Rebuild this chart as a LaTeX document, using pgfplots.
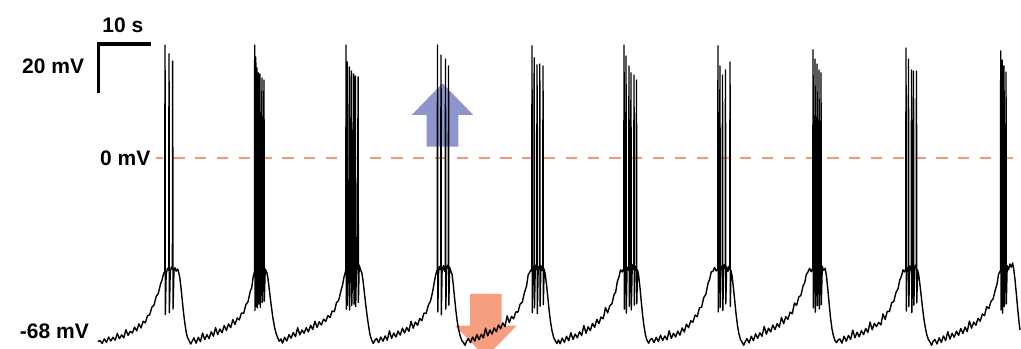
\documentclass[border=0pt]{standalone}
\usepackage{pgfplots}
\pgfplotsset{compat=1.18}
\usepackage{fontspec}
\setmainfont{Liberation Sans}
\definecolor{dashc}{RGB}{240,152,122}
\definecolor{downc}{RGB}{245,158,128}
\definecolor{upc}{RGB}{142,149,204}
\begin{document}
\begin{tikzpicture}
\begin{axis}[scale only axis, width=1021pt, height=349pt,
  xmin=-18.519, xmax=170.556, ymin=-71.375, ymax=59.043,
  hide axis, clip=true]
\path (rel axis cs:0,0) rectangle (rel axis cs:1,1);
% up arrow (blue)
\addplot[fill=upc, draw=none] coordinates {(60.50,4.22) (60.50,16.07) (57.72,16.07) (63.43,27.91) (69.13,16.07) (66.35,16.07) (66.35,4.22)} --cycle;
% down arrow (orange)
\addplot[fill=downc, draw=none] coordinates {(68.52,-50.82) (68.52,-62.67) (65.74,-62.67) (71.44,-74.51) (77.17,-62.67) (74.39,-62.67) (74.39,-50.82)} --cycle;
% 0 mV dashed line
\addplot[dashc, line width=1.3pt, dash pattern=on 11.3pt off 10.5pt, dash phase=4.5pt] coordinates {(10.37,0) (170.0,0)};
% scale bar
\addplot[black, line width=3.2pt, line join=miter] coordinates {(9.44,42.6) (-0.31,42.6) (-0.31,24.2)};
% membrane potential trace
\addplot[black, line width=1.4pt, line join=round] coordinates {
(-0.4,-68.6)(0,-68.2)(0.4,-69.3)(0.8,-67.6)(1.2,-68.9)(1.6,-66.9)(2.0,-68.4)(2.4,-67.0)(2.8,-68.1)(3.2,-65.6)(3.6,-67.5)(4.0,-66.1)(4.4,-67.2)(4.8,-64.2)(5.2,-66.3)(5.6,-64.8)(6.0,-65.4)(6.4,-63.2)(6.8,-64.6)(7.2,-62.0)(7.6,-63.5)(8.0,-61.0)(8.4,-61.6)(8.8,-58.9)(9.2,-58.6)(9.6,-55.8)(10.0,-55.0)(10.4,-51.8)(10.8,-50.6)(11.2,-47.2)(11.5,-45.5)(11.8,-43.0)
(11.99,-42.5)(12.04,42.2)(12.10,-58.5)(12.25,-43.5)(12.5,-41.2)(12.73,-42.0)(12.78,38.9)(12.84,-57.8)(13.0,-42.8)(13.2,-40.8)(13.41,-41.5)(13.46,36.2)(13.52,-56.5)(13.7,-42.0)(13.9,-41.0)(14.1,-42.3)(14.4,-41.5)(14.6,-43.0)(14.8,-45.0)(15.0,-48.5)(15.2,-52.5)(15.4,-56.5)(15.6,-60.0)(15.8,-63.0)(16.0,-65.5)(16.2,-67.0)(16.5,-68.3)(16.8,-69.5)(17.1,-68.4)
(17.4,-67.2)(17.8,-69.2)(18.2,-67.0)(18.6,-68.6)(19.0,-65.4)(19.4,-67.9)(19.8,-66.0)(20.2,-67.5)(20.6,-64.9)(21.0,-66.6)(21.4,-63.4)(21.8,-66.0)(22.2,-63.9)(22.6,-65.3)(23.0,-62.6)(23.4,-64.4)(23.8,-62.0)(24.2,-63.4)(24.6,-60.4)(25.0,-62.2)(25.4,-59.8)(25.8,-60.5)(26.2,-57.9)(26.6,-58.1)(27.0,-54.8)(27.4,-53.8)(27.8,-50.0)(28.1,-48.4)(28.4,-44.0)
(28.61,-42.5)(28.65,42.2)(28.70,-57.0)(28.78,-43.5)(28.85,37.7)(28.90,-55.5)(28.99,-42.0)(29.07,33.6)(29.12,-56.0)(29.24,-41.5)(29.35,31.8)(29.40,-54.5)(29.52,-42.8)(29.63,31.4)(29.68,-55.8)(29.85,-41.0)(30.0,29.9)(30.05,-54.0)(30.2,-42.2)(30.37,29.1)(30.42,-53.5)(30.6,-41.5)(30.9,-42.8)(31.1,-45.0)(31.4,-50.0)(31.7,-55.0)(32.0,-59.5)(32.3,-63.0)(32.6,-65.5)(32.9,-67.2)(33.2,-68.5)(33.5,-67.6)(33.8,-69.2)
(34.2,-67.0)(34.6,-68.4)(35.0,-66.0)(35.4,-67.3)(35.8,-65.2)(36.2,-66.8)(36.6,-63.4)(37.0,-66.1)(37.4,-64.3)(37.8,-65.5)(38.2,-63.4)(38.6,-65.0)(39.0,-62.5)(39.4,-64.1)(39.8,-61.0)(40.2,-63.3)(40.6,-61.2)(41.0,-62.4)(41.4,-60.2)(41.8,-61.1)(42.2,-58.9)(42.6,-59.6)(43.0,-57.2)(43.4,-57.4)(43.8,-54.0)(44.2,-53.2)(44.6,-49.8)(44.9,-47.6)(45.2,-44.4)(45.45,-42.5)
(45.52,-41.8)(45.56,42.2)(45.61,-56.5)(45.68,-42.0)(45.76,35.9)(45.81,-55.0)(45.95,-40.5)(46.05,-39.0)(46.17,34.0)(46.22,-56.8)(46.35,-41.2)(46.57,32.5)(46.62,-55.2)(46.8,-39.5)(46.98,31.4)(47.03,-54.6)(47.15,-40.8)(47.30,30.6)(47.35,-55.5)(47.5,-39.2)(47.65,-41.5)(47.80,30.3)(47.85,-54.0)(48.0,-40.0)(48.25,-41.8)(48.5,-43.0)(48.75,-46.5)(49.0,-51.0)(49.25,-55.5)(49.5,-59.5)(49.75,-63.0)(50.0,-66.0)(50.3,-68.0)(50.6,-69.3)(50.9,-68.2)
(51.2,-67.4)(51.6,-69.0)(52.0,-66.9)(52.4,-68.5)(52.8,-66.5)(53.2,-68.1)(53.6,-64.6)(54.0,-67.4)(54.4,-65.4)(54.8,-66.9)(55.2,-64.7)(55.6,-66.2)(56.0,-63.6)(56.4,-65.4)(56.8,-63.3)(57.2,-64.8)(57.6,-61.0)(58.0,-63.6)(58.4,-61.3)(58.8,-62.5)(59.2,-60.0)(59.6,-60.8)(60.0,-57.9)(60.4,-58.1)(60.8,-55.0)(61.2,-53.5)(61.6,-50.0)(61.9,-46.5)(62.15,-43.8)(62.4,-42.0)
(62.46,-42.2)(62.5,42.2)(62.55,-57.5)(62.7,-42.5)(62.9,-40.5)(63.1,-41.8)(63.15,38.5)(63.2,-58.6)(63.35,-42.0)(63.6,-40.2)(63.8,-42.4)(63.94,-41.0)(63.98,37.0)(64.03,-56.5)(64.2,-41.5)(64.4,-40.0)(64.5,-41.2)(64.54,34.4)(64.59,-55.0)(64.75,-40.8)(65.0,-42.5)(65.2,-43.5)(65.4,-47.0)(65.65,-52.0)(65.9,-57.0)(66.15,-61.0)(66.4,-64.0)(66.7,-66.5)(67.0,-68.2)(67.3,-69.0)(67.6,-70.0)(67.9,-68.4)
(68.2,-67.5)(68.6,-69.0)(69.0,-66.9)(69.4,-68.4)(69.8,-66.0)(70.2,-67.9)(70.6,-65.9)(71.0,-67.2)(71.4,-63.6)(71.8,-66.5)(72.2,-64.3)(72.6,-65.8)(73.0,-63.5)(73.4,-64.9)(73.8,-62.4)(74.2,-63.8)(74.6,-61.6)(75.0,-63.0)(75.4,-59.0)(75.8,-61.5)(76.2,-59.2)(76.6,-60.1)(77.0,-57.5)(77.4,-57.6)(77.8,-54.6)(78.2,-53.9)(78.6,-50.3)(79.0,-47.8)(79.3,-43.6)(79.6,-42.6)(79.9,-41.6)
(79.96,-42.3)(80.0,41.9)(80.05,-57.8)(80.2,-42.0)(80.36,-40.6)(80.41,37.4)(80.46,-56.0)(80.6,-41.5)(80.75,-40.0)(80.88,-41.8)(80.93,34.8)(80.98,-58.2)(81.15,-40.6)(81.39,-41.4)(81.44,35.1)(81.49,-55.4)(81.65,-40.2)(81.85,-42.0)(81.99,-40.8)(82.04,34.4)(82.09,-54.8)(82.25,-41.5)(82.45,-43.5)(82.7,-47.5)(82.95,-52.5)(83.2,-57.5)(83.45,-61.5)(83.7,-64.5)(84.0,-67.0)(84.3,-68.3)(84.6,-69.3)(84.9,-68.0)(85.2,-69.4)
(85.6,-67.3)(86.0,-68.9)(86.4,-66.6)(86.8,-68.3)(87.2,-65.3)(87.6,-67.8)(88.0,-65.8)(88.4,-67.2)(88.8,-64.9)(89.2,-66.4)(89.6,-62.6)(90.0,-65.5)(90.4,-63.1)(90.8,-64.5)(91.2,-61.8)(91.6,-63.3)(92.0,-60.3)(92.4,-61.9)(92.8,-59.4)(93.2,-60.1)(93.6,-55.9)(94.0,-57.9)(94.4,-55.2)(94.8,-54.5)(95.2,-51.0)(95.5,-50.1)(95.8,-46.2)(96.1,-44.5)(96.4,-41.8)(96.7,-42.6)(96.95,-41.5)
(97.0,-42.0)(97.04,42.2)(97.09,-56.5)(97.22,-41.5)(97.36,-42.4)(97.41,38.1)(97.46,-58.0)(97.6,-40.8)(97.8,-41.9)(97.91,-40.5)(97.96,34.4)(98.01,-55.5)(98.15,-42.0)(98.28,-40.4)(98.33,31.8)(98.38,-56.8)(98.55,-41.2)(98.7,-39.8)(98.84,-41.6)(98.89,31.0)(98.94,-55.0)(99.1,-40.6)(99.3,-42.0)(99.35,29.1)(99.4,-54.5)(99.55,-41.8)(99.75,-44.0)(100.0,-48.5)(100.25,-54.0)(100.5,-59.0)(100.75,-63.0)(101.0,-66.0)(101.3,-68.2)(101.6,-69.2)(101.9,-67.9)
(102.2,-67.4)(102.6,-69.0)(103.0,-67.0)(103.4,-68.6)(103.8,-66.2)(104.2,-68.2)(104.6,-66.5)(105.0,-67.9)(105.4,-64.6)(105.8,-67.4)(106.2,-65.5)(106.6,-66.9)(107.0,-64.7)(107.4,-66.2)(107.8,-63.5)(108.2,-65.0)(108.6,-62.1)(109.0,-63.4)(109.4,-60.8)(109.8,-61.4)(110.2,-58.7)(110.6,-59.3)(111.0,-56.0)(111.4,-55.8)(111.8,-52.2)(112.2,-50.9)(112.6,-46.8)(112.9,-45.3)(113.2,-42.5)(113.5,-42.4)(113.8,-40.9)(114.1,-42.2)
(114.4,-41.5)(114.44,41.9)(114.49,-57.5)(114.62,-41.0)(114.76,-42.5)(114.81,34.4)(114.86,-55.8)(115.0,-40.5)(115.15,-41.8)(115.23,-40.2)(115.28,31.0)(115.33,-57.0)(115.5,-41.6)(115.65,-39.8)(115.78,-41.4)(115.83,32.9)(115.88,-54.5)(116.05,-40.6)(116.3,-42.3)(116.5,-40.4)(116.62,-41.5)(116.67,35.9)(116.72,-55.5)(116.85,-42.0)(117.05,-44.0)(117.3,-48.5)(117.55,-53.5)(117.8,-58.5)(118.05,-62.5)(118.3,-65.5)(118.6,-67.8)(118.9,-68.8)(119.2,-70.0)(119.5,-68.6)
(119.8,-67.5)(120.2,-69.1)(120.6,-66.6)(121.0,-68.3)(121.4,-65.7)(121.8,-67.4)(122.2,-65.3)(122.6,-66.6)(123.0,-62.9)(123.4,-65.8)(123.8,-63.6)(124.2,-65.0)(124.6,-62.4)(125.0,-64.1)(125.4,-61.9)(125.8,-63.2)(126.2,-59.6)(126.6,-61.9)(127.0,-59.3)(127.4,-60.3)(127.8,-57.6)(128.2,-58.2)(128.6,-54.2)(129.0,-55.1)(129.4,-52.0)(129.8,-51.3)(130.2,-47.8)(130.5,-46.6)(130.8,-43.5)(131.1,-42.6)(131.4,-41.2)(131.7,-42.5)(131.95,-41.3)
(132.0,-42.0)(132.04,40.4)(132.09,-56.0)(132.22,-41.2)(132.36,-42.5)(132.41,37.0)(132.46,-57.6)(132.6,-40.6)(132.73,-41.8)(132.78,35.1)(132.83,-55.2)(133.0,-40.2)(133.1,-41.6)(133.15,32.9)(133.2,-56.4)(133.35,-41.0)(133.47,-42.0)(133.52,31.8)(133.57,-54.8)(133.75,-40.5)(134.0,-42.0)(134.3,-41.2)(134.55,-44.5)(134.8,-49.5)(135.05,-55.0)(135.3,-60.0)(135.55,-63.8)(135.8,-66.3)(136.1,-68.2)(136.4,-69.0)(136.7,-68.0)
(137.0,-67.6)(137.4,-69.2)(137.8,-66.6)(138.2,-68.5)(138.6,-66.3)(139.0,-67.8)(139.4,-64.3)(139.8,-67.2)(140.2,-65.1)(140.6,-66.8)(141.0,-64.5)(141.4,-66.0)(141.8,-63.7)(142.2,-65.2)(142.6,-61.3)(143.0,-64.2)(143.4,-61.8)(143.8,-63.0)(144.2,-61.4)(144.6,-62.4)(145.0,-58.3)(145.4,-60.3)(145.8,-57.3)(146.2,-57.4)(146.6,-54.1)(147.0,-53.6)(147.4,-50.3)(147.8,-48.8)(148.1,-45.6)(148.4,-44.3)(148.7,-41.8)(148.95,-42.6)
(149.22,-41.4)(149.26,41.1)(149.31,-57.2)(149.45,-41.0)(149.6,-42.4)(149.67,-41.2)(149.72,37.0)(149.77,-55.6)(149.95,-40.4)(150.1,-42.0)(150.23,-40.6)(150.28,32.9)(150.33,-57.8)(150.48,-41.4)(150.6,-39.8)(150.65,32.5)(150.7,-55.0)(150.9,-41.2)(151.05,-40.0)(151.15,-41.0)(151.2,32.5)(151.25,-54.2)(151.4,-41.8)(151.6,-43.5)(151.85,-47.5)(152.1,-52.0)(152.35,-56.5)(152.6,-60.5)(152.85,-63.5)(153.1,-66.0)(153.4,-67.8)(153.7,-68.8)(154.0,-70.0)(154.3,-68.5)
(154.6,-67.8)(155.0,-69.5)(155.4,-67.2)(155.8,-68.9)(156.2,-66.5)(156.6,-68.3)(157.0,-64.9)(157.4,-67.7)(157.8,-65.5)(158.2,-67.0)(158.6,-64.7)(159.0,-66.3)(159.4,-63.7)(159.8,-65.6)(160.2,-63.2)(160.6,-64.9)(161.0,-60.9)(161.4,-63.6)(161.8,-61.3)(162.2,-62.5)(162.6,-59.9)(163.0,-61.0)(163.4,-58.3)(163.8,-58.9)(164.2,-55.5)(164.6,-56.3)(165.0,-53.6)(165.4,-52.6)(165.8,-49.2)(166.1,-47.3)(166.4,-43.4)(166.65,-42.5)
(166.76,-42.0)(166.8,40.0)(166.85,-56.8)(166.97,-41.5)(167.04,-40.8)(167.09,36.6)(167.14,-58.0)(167.28,-41.0)(167.36,-40.0)(167.41,34.4)(167.46,-55.5)(167.6,-40.5)(167.73,-41.6)(167.78,32.1)(167.83,-54.5)(168.0,-40.2)(168.25,-41.8)(168.5,-39.6)(168.75,-40.8)(169.0,-39.2)(169.2,-41.5)(169.45,-45.5)(169.7,-51.0)(169.95,-56.5)(170.2,-61.5)(170.37,-64.3)
};
% labels
\node[font=\bfseries\fontsize{21}{25}\selectfont, inner sep=0pt, anchor=center] at (rel axis cs:0.1203,0.9275) {10 s};
\node[font=\bfseries\fontsize{21}{25}\selectfont, inner sep=0pt, anchor=east] at (rel axis cs:0.08257,0.8089) {20 mV};
\node[font=\bfseries\fontsize{21}{25}\selectfont, inner sep=0pt, anchor=east] at (rel axis cs:0.14740,0.5473) {0 mV};
\node[font=\bfseries\fontsize{21}{25}\selectfont, inner sep=0pt, anchor=east] at (rel axis cs:0.08717,0.05158) {-68 mV};
\end{axis}
\end{tikzpicture}
\end{document}
